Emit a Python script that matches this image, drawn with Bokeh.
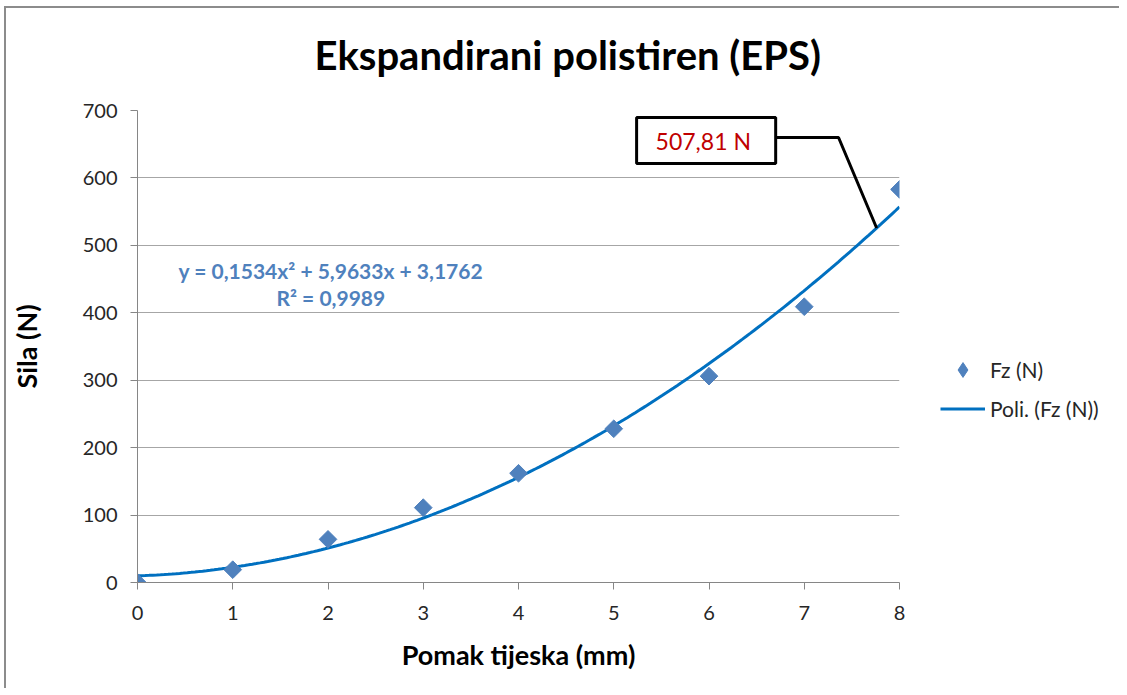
import numpy as np
from bokeh.plotting import figure
from bokeh.layouts import row
from bokeh.models import (Range1d, LinearAxis, Label, BoxAnnotation, Legend, LegendItem,
                          FixedTicker, Grid)
from bokeh.embed import file_html
from bokeh.resources import INLINE

# ---- data ----
pomak_mm = [0, 1, 2, 3, 4, 5, 6, 7, 8]
sila_N = [0, 19, 64, 111, 162, 228, 306, 409, 583]
x_ticks = [0, 1, 2, 3, 4, 5, 6, 7, 8]
y_ticks = [0, 100, 200, 300, 400, 500, 600, 700]
title_text = "Ekspandirani polistiren (EPS)"
x_label = "Pomak tijeska (mm)"
y_label = "Sila (N)"
eq_line1 = "y = 0,1534x\u00b2 + 5,9633x + 3,1762"
eq_line2 = "R\u00b2 = 0,9989"
callout_value = 507.81
series_name = "Fz (N)"
trend_name = "Poli. (Fz (N))"

FONT = "Lato"
MARK = "#4F81BD"
TREND = "#0070C0"

coef = np.polyfit(pomak_mm, sila_N, 2)
xs = np.linspace(0, 8, 200)
ys = np.polyval(coef, xs)

W1, H1 = 913, 680
p = figure(width=W1, height=H1, output_backend="svg", toolbar_location=None,
           title=title_text, x_range=Range1d(0, 8), y_range=Range1d(0, 700),
           x_axis_type=None, y_axis_type=None,
           min_border_left=131, min_border_right=20, min_border_top=102,
           min_border_bottom=106)
p.outline_line_color = None
p.background_fill_color = "white"
p.border_fill_color = "white"

p.title.text_font = FONT
p.title.text_font_style = "bold"
p.title.text_font_size = "40px"
p.title.text_color = "#000000"
p.title.align = "left"
p.title.offset = 177
p.title.vertical_align = "middle"

# blank spacer axis between the frame and the title
spacer = LinearAxis(ticker=FixedTicker(ticks=[]), axis_line_color=None,
                    major_tick_line_color=None, minor_tick_line_color=None,
                    major_tick_in=0, major_tick_out=0, minor_tick_out=0,
                    major_label_standoff=0, axis_label=" ", axis_label_standoff=6,
                    axis_label_text_font_size="16px", axis_label_text_alpha=0)
p.add_layout(spacer, "above")

xaxis = LinearAxis(ticker=FixedTicker(ticks=x_ticks))
yaxis = LinearAxis(ticker=FixedTicker(ticks=y_ticks))
for ax in (xaxis, yaxis):
    ax.axis_line_color = "#868686"
    ax.major_tick_line_color = "#868686"
    ax.minor_tick_line_color = None
    ax.major_tick_in = 0
    ax.major_tick_out = 7
    ax.major_label_text_font = FONT
    ax.major_label_text_font_size = "20px"
    ax.major_label_text_color = "#262626"
    ax.axis_label_text_font = FONT
    ax.axis_label_text_font_style = "bold"
    ax.axis_label_text_font_size = "27px"
    ax.axis_label_text_color = "#000000"
xaxis.axis_label = x_label
yaxis.axis_label = y_label
xaxis.major_label_standoff = 16
xaxis.axis_label_standoff = 15
yaxis.major_label_standoff = 13
yaxis.axis_label_standoff = 37
p.add_layout(xaxis, "below")
p.add_layout(yaxis, "left")
p.add_layout(Grid(dimension=1, ticker=FixedTicker(ticks=y_ticks[1:]),
                  grid_line_color="#A6A6A6"))

trend = p.line(xs, ys, line_color=TREND, line_width=3)
pts = p.scatter(pomak_mm, sila_N, marker="square", angle=np.pi / 4, size=12.5,
                fill_color=MARK, line_color=MARK)

p.add_layout(Label(x=2.03, y=463, text=eq_line1, text_align="center",
                   text_baseline="middle", text_font=FONT, text_font_style="bold",
                   text_font_size="21px", text_color=MARK))
p.add_layout(Label(x=2.03, y=423, text=eq_line2, text_align="center",
                   text_baseline="middle", text_font=FONT, text_font_style="bold",
                   text_font_size="21px", text_color=MARK))

# callout
p.add_layout(BoxAnnotation(left=5.24, right=6.70, top=689.6, bottom=621.4,
                           fill_color="white", fill_alpha=1.0,
                           line_color="black", line_alpha=1.0, line_width=3))
callout_text = f"{callout_value:.2f}".replace(".", ",") + " N"
p.add_layout(Label(x=5.94, y=655, text=callout_text, text_align="center",
                   text_baseline="middle", text_font=FONT, text_font_size="23px",
                   text_color="#C00000"))
tx = 7.76
p.line([6.70, 7.36, tx], [660, 660, float(np.polyval(coef, tx))],
       line_color="black", line_width=3)

# legend in a small companion figure on the right
W2 = 200
lf = figure(width=W2, height=H1, output_backend="svg", toolbar_location=None,
            title=None, x_range=Range1d(-100, -99), y_range=Range1d(-100, -99),
            x_axis_type=None, y_axis_type=None,
            min_border_left=0, min_border_right=0, min_border_top=0, min_border_bottom=0)
lf.outline_line_color = None
lf.xgrid.visible = False
lf.ygrid.visible = False
l_trend = lf.line(xs, ys, line_color=TREND, line_width=3)
l_pts = lf.scatter(pomak_mm, sila_N, marker="diamond", size=16,
                   fill_color=MARK, line_color=MARK)
legend = Legend(items=[LegendItem(label=series_name, renderers=[l_pts]),
                       LegendItem(label=trend_name, renderers=[l_trend])],
                location=(21, 155), glyph_width=45, glyph_height=37,
                label_height=20, spacing=2, label_standoff=5, padding=0, margin=0,
                border_line_color=None, background_fill_alpha=0,
                label_text_font=FONT, label_text_font_size="21px",
                label_text_color="#262626")
lf.add_layout(legend)

layout = row(p, lf, styles={"border-top": "2px solid #8c8c8c",
                            "border-left": "2px solid #8c8c8c",
                            "margin-left": "4px", "margin-top": "6px"})

open("out.html", "w").write(file_html(layout, INLINE))
